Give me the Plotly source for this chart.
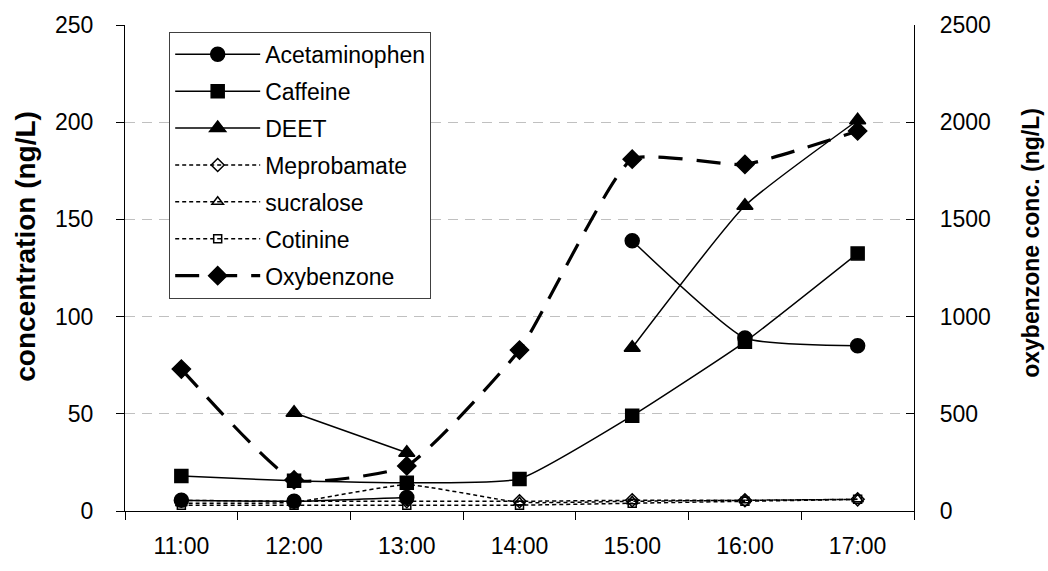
import plotly.graph_objects as go

hours = ["11:00", "12:00", "13:00", "14:00", "15:00", "16:00", "17:00"]

acetaminophen = [5.5, 5, 7, None, 139, 89, 85]
caffeine = [18, 15.5, 14.5, 16.5, 49, 87, 132.5]
deet = [None, 50.5, 30, None, 84, 157, 201]
meprobamate = [5.5, 5, 5, 5, 5.5, 5.5, 6]
sucralose = [4, 4.5, 13.5, 4.5, 5, 5.5, 6]
cotinine = [3, 3, 3, 3, 4, 5, 6]
oxybenzone = [730, 160, 232, 828, 1810, 1783, 1955]

series = [
    ("Acetaminophen", acetaminophen, "circle", 14, "solid", 1.5, "y"),
    ("Caffeine", caffeine, "square", 13, "solid", 1.5, "y"),
    ("DEET", deet, "triangle-up", 14, "solid", 1.5, "y"),
    ("Meprobamate", meprobamate, "diamond-open", 10, "4px,3px", 1.5, "y"),
    ("sucralose", sucralose, "triangle-up-open", 10, "4px,3px", 1.5, "y"),
    ("Cotinine", cotinine, "square-open", 8, "4px,3px", 1.5, "y"),
    ("Oxybenzone", oxybenzone, "diamond", 14, "24px,14px", 3.2, "y2"),
]

fig = go.Figure()
for i, (name, vals, sym, msize, dash, lw, ax) in enumerate(series):
    fig.add_trace(go.Scatter(
        x=hours, y=vals, name=name, yaxis=ax, mode="lines+markers",
        legendgroup=f"g{i}",
        line=dict(color="black", width=lw, dash=dash, shape="spline", smoothing=0.45),
        marker=dict(symbol=sym, size=msize, color="black",
                    line=dict(color="black", width=1.5)),
        connectgaps=False,
    ))

font_family = "Liberation Sans, Arial, sans-serif"

fig.update_layout(
    width=1048, height=571,
    paper_bgcolor="white", plot_bgcolor="white",
    margin=dict(l=125, r=134, t=17, b=58),
    font=dict(family=font_family, size=23, color="black"),
    showlegend=True,
    legend=dict(
        x=0.056, y=0.986, xanchor="left", yanchor="top",
        bgcolor="white", bordercolor="#404040", borderwidth=1,
        font=dict(size=23), itemwidth=85, tracegroupgap=4,
        traceorder="grouped",
    ),
    xaxis=dict(
        type="category", range=[-0.5, 6.5],
        showline=True, linecolor="black", linewidth=1.2,
        ticks="outside", ticklen=8, tickcolor="black", tickson="boundaries",
        showgrid=False, zeroline=False, ticklabelstandoff=14,
        tickfont=dict(size=23),
    ),
    yaxis=dict(
        range=[0, 250], dtick=50,
        showline=True, linecolor="black", linewidth=1.2,
        ticks="outside", ticklen=8, tickcolor="black",
        showgrid=True, gridcolor="#c0c0c0", griddash="10px,7px", gridwidth=1,
        zeroline=False, ticklabelstandoff=18,
        tickfont=dict(size=23),
    ),
    yaxis2=dict(
        range=[0, 2500], dtick=500, overlaying="y", side="right",
        showline=True, linecolor="black", linewidth=1.2,
        ticks="inside", ticklen=8, tickcolor="black",
        showgrid=False, zeroline=False, ticklabelstandoff=20,
        tickfont=dict(size=23),
    ),
    annotations=[
        dict(text="<b>concentration (ng/L)</b>", xref="paper", yref="paper",
             x=-0.126, y=0.545, textangle=-90, showarrow=False,
             xanchor="center", yanchor="middle", font=dict(size=28)),
        dict(text="<b>oxybenzone conc. (ng/L)</b>", xref="paper", yref="paper",
             x=1.149, y=0.551, textangle=-90, showarrow=False,
             xanchor="center", yanchor="middle", font=dict(size=23)),
    ],
)

fig.write_html("out.html")
